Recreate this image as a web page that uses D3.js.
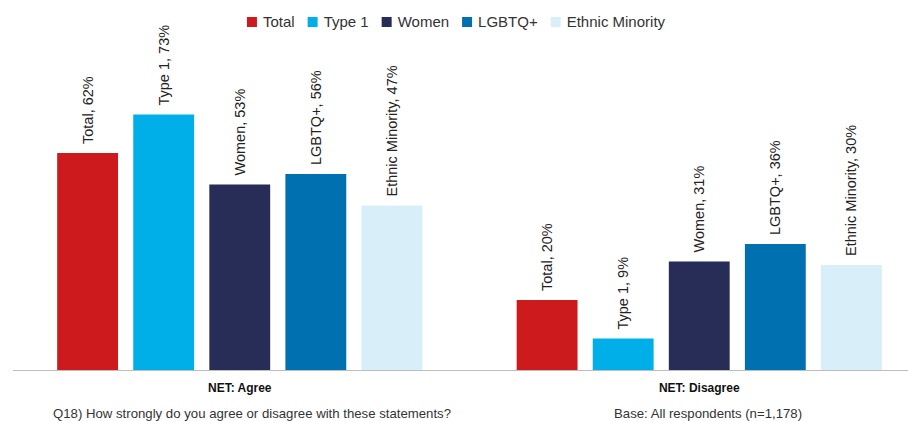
<!DOCTYPE html>
<html>
<head>
<meta charset="utf-8">
<script src="https://cdn.jsdelivr.net/npm/d3@7"></script>
<style>
  body { margin: 0; background: #fff; }
  svg { display: block; font-family: "Liberation Sans", Arial, sans-serif; }
</style>
</head>
<body>
<div id="chart"></div>
<script>
// data
const groups = ["NET: Agree", "NET: Disagree"]
const seriesNames = ["Total", "Type 1", "Women", "LGBTQ+", "Ethnic Minority"]
const agreeValues = [62, 73, 53, 56, 47]
const disagreeValues = [20, 9, 31, 36, 30]
const seriesColors = ["#cd1a1c", "#00afe8", "#272d56", "#0070b0", "#d8effa"]
const footLeft = "Q18) How strongly do you agree or disagree with these statements?"
const footRight = "Base: All respondents (n=1,178)"

const width = 908
const height = 421
const baseline = 370

const rows = groups.map((g, gi) => ({
    group: g,
    values: seriesNames.map((s, si) => ({
        name: s,
        value: (gi === 0 ? agreeValues : disagreeValues)[si]
    }))
}))

const svg = d3.select("#chart").append("svg")
    .attr("width", width)
    .attr("height", height)
    .attr("viewBox", [0, 0, width, height].join(" "))

const x0 = d3.scaleBand()
    .domain(groups)
    .range([10, 929])

const x1 = d3.scaleBand()
    .domain(seriesNames)
    .range([0, x0.bandwidth()])
    .paddingInner(0.2)
    .paddingOuter(0.62)

const y = d3.scaleLinear()
    .domain([0, 100])
    .range([baseline, 20])

const color = d3.scaleOrdinal()
    .domain(seriesNames)
    .range(seriesColors)

// bars
const g = svg.append("g")
    .selectAll("g")
    .data(rows)
    .join("g")
    .attr("transform", d => `translate(${x0(d.group)},0)`)

g.selectAll("rect")
    .data(d => d.values)
    .join("rect")
    .attr("x", d => x1(d.name))
    .attr("y", d => y(d.value))
    .attr("width", x1.bandwidth())
    .attr("height", d => y(0) - y(d.value))
    .attr("fill", d => color(d.name))

// rotated value labels
g.selectAll("text.lbl")
    .data(d => d.values)
    .join("text")
    .attr("class", "lbl")
    .attr("transform", d => `translate(${x1(d.name) + x1.bandwidth() / 2},${y(d.value) - 9}) rotate(-90)`)
    .attr("dy", "0.35em")
    .attr("text-anchor", "start")
    .attr("font-size", 14.5)
    .attr("fill", "#222")
    .text(d => `${d.name}, ${d.value}%`)

// x axis
const xAxis = gg => gg
    .attr("transform", `translate(0,${baseline})`)
    .call(d3.axisBottom(x0).tickSize(0).tickPadding(13))
    .call(gg => gg.select(".domain").attr("d", `M13,0.5H${width}`).attr("stroke", "#bdbdbd").attr("stroke-width", 1.2))
    .call(gg => gg.selectAll(".tick text")
        .attr("font-family", "\"Liberation Sans\", Arial, sans-serif")
        .attr("font-size", 12)
        .attr("font-weight", "bold")
        .attr("fill", "#111"))

svg.append("g").call(xAxis)

// footnotes
svg.append("text")
    .attr("x", 53)
    .attr("y", 418)
    .attr("font-size", 13.2)
    .attr("fill", "#333")
    .text(footLeft)

svg.append("text")
    .attr("x", 614)
    .attr("y", 418)
    .attr("font-size", 13.2)
    .attr("fill", "#333")
    .text(footRight)

// legend
const legend = svg.append("g")
const items = legend.selectAll("g")
    .data(seriesNames)
    .join("g")

items.append("rect")
    .attr("width", 10)
    .attr("height", 10)
    .attr("y", 17)
    .attr("fill", d => color(d))

items.append("text")
    .attr("x", 16)
    .attr("y", 22)
    .attr("dy", "0.35em")
    .attr("font-size", 15)
    .attr("fill", "#333")
    .text(d => d)

let cursor = 0
items.each(function () {
    const w = 16 + this.querySelector("text").getComputedTextLength()
    d3.select(this).attr("transform", `translate(${cursor},0)`)
    cursor += w + 13
})
cursor -= 13
legend.attr("transform", `translate(${456 - cursor / 2},0)`)
</script>
</body>
</html>
